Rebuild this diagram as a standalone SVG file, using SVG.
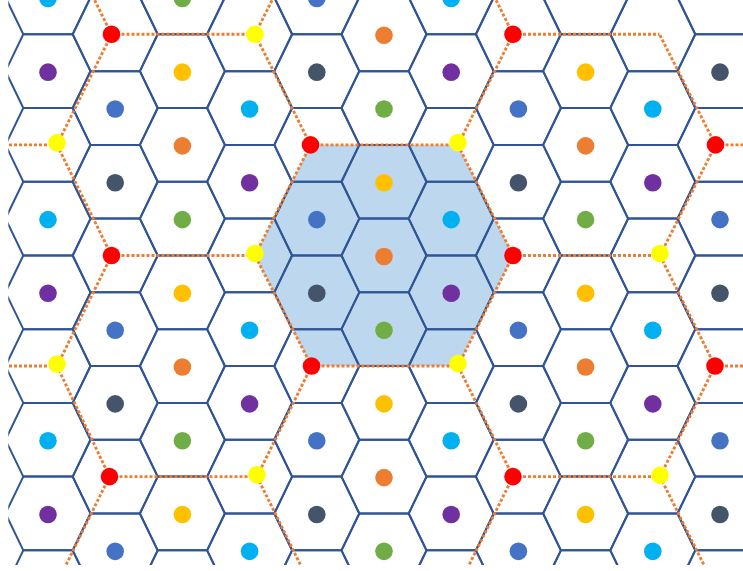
<svg xmlns="http://www.w3.org/2000/svg" width="743" height="571" viewBox="0 0 743 571">
<defs>
<style>
.hx{fill:none;stroke:#2F5597;stroke-width:2;stroke-linejoin:round}
.dl{fill:none;stroke:#ED7D31;stroke-width:2.9;stroke-dasharray:3 2}
.shade{fill:#BDD7EE;stroke:none}
.cy{fill:#00B0F0}.pu{fill:#7030A0}.gr{fill:#70AD47}.go{fill:#FFC000}
.bl{fill:#4472C4}.or{fill:#ED7D31}.dk{fill:#44546A}.rd{fill:#FF0000}.ye{fill:#FFFF00}
</style>
<polygon id="h" class="hx" points="-42.5,0 -24.7,-36.86 24.7,-36.86 42.5,0 24.7,36.86 -24.7,36.86"/>
<clipPath id="cp"><rect x="8.3" y="0" width="735" height="565"/></clipPath>
</defs>
<g clip-path="url(#cp)">
<g id="cluster-shade">
<polygon class="shade" points="310.5,144.9 458,144.9 513,255.5 458,366 311.5,366 255,255.5"/>
</g>
<g id="cell-grid">
<use href="#h" x="48" y="-2.56"/><use href="#h" x="48" y="71.16"/><use href="#h" x="48" y="144.88"/><use href="#h" x="48" y="218.6"/><use href="#h" x="48" y="292.32"/><use href="#h" x="48" y="366.04"/><use href="#h" x="48" y="439.76"/><use href="#h" x="48" y="513.48"/><use href="#h" x="48" y="587.2"/>
<use href="#h" x="115.2" y="34.3"/><use href="#h" x="115.2" y="108.02"/><use href="#h" x="115.2" y="181.74"/><use href="#h" x="115.2" y="255.46"/><use href="#h" x="115.2" y="329.18"/><use href="#h" x="115.2" y="402.9"/><use href="#h" x="115.2" y="476.62"/><use href="#h" x="115.2" y="550.34"/>
<use href="#h" x="182.4" y="-2.56"/><use href="#h" x="182.4" y="71.16"/><use href="#h" x="182.4" y="144.88"/><use href="#h" x="182.4" y="218.6"/><use href="#h" x="182.4" y="292.32"/><use href="#h" x="182.4" y="366.04"/><use href="#h" x="182.4" y="439.76"/><use href="#h" x="182.4" y="513.48"/><use href="#h" x="182.4" y="587.2"/>
<use href="#h" x="249.6" y="34.3"/><use href="#h" x="249.6" y="108.02"/><use href="#h" x="249.6" y="181.74"/><use href="#h" x="249.6" y="255.46"/><use href="#h" x="249.6" y="329.18"/><use href="#h" x="249.6" y="402.9"/><use href="#h" x="249.6" y="476.62"/><use href="#h" x="249.6" y="550.34"/>
<use href="#h" x="316.8" y="-2.56"/><use href="#h" x="316.8" y="71.16"/><use href="#h" x="316.8" y="144.88"/><use href="#h" x="316.8" y="218.6"/><use href="#h" x="316.8" y="292.32"/><use href="#h" x="316.8" y="366.04"/><use href="#h" x="316.8" y="439.76"/><use href="#h" x="316.8" y="513.48"/><use href="#h" x="316.8" y="587.2"/>
<use href="#h" x="384" y="34.3"/><use href="#h" x="384" y="108.02"/><use href="#h" x="384" y="181.74"/><use href="#h" x="384" y="255.46"/><use href="#h" x="384" y="329.18"/><use href="#h" x="384" y="402.9"/><use href="#h" x="384" y="476.62"/><use href="#h" x="384" y="550.34"/>
<use href="#h" x="451.2" y="-2.56"/><use href="#h" x="451.2" y="71.16"/><use href="#h" x="451.2" y="144.88"/><use href="#h" x="451.2" y="218.6"/><use href="#h" x="451.2" y="292.32"/><use href="#h" x="451.2" y="366.04"/><use href="#h" x="451.2" y="439.76"/><use href="#h" x="451.2" y="513.48"/><use href="#h" x="451.2" y="587.2"/>
<use href="#h" x="518.4" y="34.3"/><use href="#h" x="518.4" y="108.02"/><use href="#h" x="518.4" y="181.74"/><use href="#h" x="518.4" y="255.46"/><use href="#h" x="518.4" y="329.18"/><use href="#h" x="518.4" y="402.9"/><use href="#h" x="518.4" y="476.62"/><use href="#h" x="518.4" y="550.34"/>
<use href="#h" x="585.6" y="-2.56"/><use href="#h" x="585.6" y="71.16"/><use href="#h" x="585.6" y="144.88"/><use href="#h" x="585.6" y="218.6"/><use href="#h" x="585.6" y="292.32"/><use href="#h" x="585.6" y="366.04"/><use href="#h" x="585.6" y="439.76"/><use href="#h" x="585.6" y="513.48"/><use href="#h" x="585.6" y="587.2"/>
<use href="#h" x="652.8" y="34.3"/><use href="#h" x="652.8" y="108.02"/><use href="#h" x="652.8" y="181.74"/><use href="#h" x="652.8" y="255.46"/><use href="#h" x="652.8" y="329.18"/><use href="#h" x="652.8" y="402.9"/><use href="#h" x="652.8" y="476.62"/><use href="#h" x="652.8" y="550.34"/>
<use href="#h" x="720" y="-2.56"/><use href="#h" x="720" y="71.16"/><use href="#h" x="720" y="144.88"/><use href="#h" x="720" y="218.6"/><use href="#h" x="720" y="292.32"/><use href="#h" x="720" y="366.04"/><use href="#h" x="720" y="439.76"/><use href="#h" x="720" y="513.48"/><use href="#h" x="720" y="587.2"/>
</g>
<g id="cluster-boundaries">
<path class="dl" d="M111.5 34.3L255 34.3M111.5 34.3L57 -76.3M111.5 34.3L57 144.9"/>
<path class="dl" d="M111.5 255.5L255 255.5M111.5 255.5L57 144.9M111.5 255.5L57 366"/>
<path class="dl" d="M109.5 476.6L257 476.6M109.5 476.6L57 366M109.5 476.6L55 587.2"/>
<path class="dl" d="M310.5 144.9L458 144.9M310.5 144.9L255 34.3M310.5 144.9L255 255.5"/>
<path class="dl" d="M311.5 366L458 366M311.5 366L255 255.5M311.5 366L257 476.6"/>
<path class="dl" d="M513 34.3L659.5 34.3M513 34.3L458 -76.3M513 34.3L458 144.9"/>
<path class="dl" d="M513 255.5L660 255.5M513 255.5L458 144.9M513 255.5L458 366"/>
<path class="dl" d="M513 476.6L660 476.6M513 476.6L458 366M513 476.6L458 587.2"/>
<path class="dl" d="M715.5 144.9L862 144.9M715.5 144.9L659.5 34.3M715.5 144.9L660 255.5"/>
<path class="dl" d="M715 366L862 366M715 366L660 255.5M715 366L660 476.6"/>
<path class="dl" d="M255 34.3L310.5 -76.3M57 144.9L-90 144.9M57 366L-90 366M257 476.6L311.5 587.2M660 476.6L715 587.2"/>
</g>
<g id="cell-dots">
<circle class="cy" cx="48" cy="-1.56" r="8.8"/><circle class="pu" cx="48" cy="72.16" r="8.8"/><circle class="cy" cx="48" cy="219.6" r="8.8"/><circle class="pu" cx="48" cy="293.32" r="8.8"/><circle class="cy" cx="48" cy="440.76" r="8.8"/><circle class="pu" cx="48" cy="514.48" r="8.8"/>
<circle class="bl" cx="115.2" cy="109.02" r="8.8"/><circle class="dk" cx="115.2" cy="182.74" r="8.8"/><circle class="bl" cx="115.2" cy="330.18" r="8.8"/><circle class="dk" cx="115.2" cy="403.9" r="8.8"/><circle class="bl" cx="115.2" cy="551.34" r="8.8"/>
<circle class="gr" cx="182.4" cy="-1.56" r="8.8"/><circle class="go" cx="182.4" cy="72.16" r="8.8"/><circle class="or" cx="182.4" cy="145.88" r="8.8"/><circle class="gr" cx="182.4" cy="219.6" r="8.8"/><circle class="go" cx="182.4" cy="293.32" r="8.8"/><circle class="or" cx="182.4" cy="367.04" r="8.8"/><circle class="gr" cx="182.4" cy="440.76" r="8.8"/><circle class="go" cx="182.4" cy="514.48" r="8.8"/>
<circle class="cy" cx="249.6" cy="109.02" r="8.8"/><circle class="pu" cx="249.6" cy="182.74" r="8.8"/><circle class="cy" cx="249.6" cy="330.18" r="8.8"/><circle class="pu" cx="249.6" cy="403.9" r="8.8"/><circle class="cy" cx="249.6" cy="551.34" r="8.8"/>
<circle class="bl" cx="316.8" cy="-1.56" r="8.8"/><circle class="dk" cx="316.8" cy="72.16" r="8.8"/><circle class="bl" cx="316.8" cy="219.6" r="8.8"/><circle class="dk" cx="316.8" cy="293.32" r="8.8"/><circle class="bl" cx="316.8" cy="440.76" r="8.8"/><circle class="dk" cx="316.8" cy="514.48" r="8.8"/>
<circle class="or" cx="384" cy="35.3" r="8.8"/><circle class="gr" cx="384" cy="109.02" r="8.8"/><circle class="go" cx="384" cy="182.74" r="8.8"/><circle class="or" cx="384" cy="256.46" r="8.8"/><circle class="gr" cx="384" cy="330.18" r="8.8"/><circle class="go" cx="384" cy="403.9" r="8.8"/><circle class="or" cx="384" cy="477.62" r="8.8"/><circle class="gr" cx="384" cy="551.34" r="8.8"/>
<circle class="cy" cx="451.2" cy="-1.56" r="8.8"/><circle class="pu" cx="451.2" cy="72.16" r="8.8"/><circle class="cy" cx="451.2" cy="219.6" r="8.8"/><circle class="pu" cx="451.2" cy="293.32" r="8.8"/><circle class="cy" cx="451.2" cy="440.76" r="8.8"/><circle class="pu" cx="451.2" cy="514.48" r="8.8"/>
<circle class="bl" cx="518.4" cy="109.02" r="8.8"/><circle class="dk" cx="518.4" cy="182.74" r="8.8"/><circle class="bl" cx="518.4" cy="330.18" r="8.8"/><circle class="dk" cx="518.4" cy="403.9" r="8.8"/><circle class="bl" cx="518.4" cy="551.34" r="8.8"/>
<circle class="go" cx="585.6" cy="72.16" r="8.8"/><circle class="or" cx="585.6" cy="145.88" r="8.8"/><circle class="gr" cx="585.6" cy="219.6" r="8.8"/><circle class="go" cx="585.6" cy="293.32" r="8.8"/><circle class="or" cx="585.6" cy="367.04" r="8.8"/><circle class="gr" cx="585.6" cy="440.76" r="8.8"/><circle class="go" cx="585.6" cy="514.48" r="8.8"/>
<circle class="cy" cx="652.8" cy="109.02" r="8.8"/><circle class="pu" cx="652.8" cy="182.74" r="8.8"/><circle class="cy" cx="652.8" cy="330.18" r="8.8"/><circle class="pu" cx="652.8" cy="403.9" r="8.8"/><circle class="cy" cx="652.8" cy="551.34" r="8.8"/>
<circle class="dk" cx="720" cy="72.16" r="8.8"/><circle class="bl" cx="720" cy="219.6" r="8.8"/><circle class="dk" cx="720" cy="293.32" r="8.8"/><circle class="bl" cx="720" cy="440.76" r="8.8"/><circle class="dk" cx="720" cy="514.48" r="8.8"/>
</g>
<g id="cluster-vertices">
<circle class="rd" cx="111.5" cy="34.3" r="8.8"/><circle class="rd" cx="111.5" cy="255.5" r="8.8"/><circle class="rd" cx="109.5" cy="476.6" r="8.8"/>
<circle class="rd" cx="310.5" cy="144.9" r="8.8"/><circle class="rd" cx="311.5" cy="366" r="8.8"/>
<circle class="rd" cx="513" cy="34.3" r="8.8"/><circle class="rd" cx="513" cy="255.5" r="8.8"/><circle class="rd" cx="513" cy="476.6" r="8.8"/>
<circle class="rd" cx="715.5" cy="144.9" r="8.8"/><circle class="rd" cx="715" cy="366" r="8.8"/>
<circle class="ye" cx="57" cy="142.9" r="8.8"/><circle class="ye" cx="57" cy="364" r="8.8"/>
<circle class="ye" cx="255" cy="34.3" r="8.8"/><circle class="ye" cx="255" cy="253.5" r="8.8"/><circle class="ye" cx="257" cy="474.8" r="8.8"/>
<circle class="ye" cx="458" cy="142.6" r="8.8"/><circle class="ye" cx="458" cy="363.6" r="8.8"/>
<circle class="ye" cx="660" cy="253.5" r="8.8"/><circle class="ye" cx="660" cy="475.2" r="8.8"/>
</g>
</g>
</svg>
